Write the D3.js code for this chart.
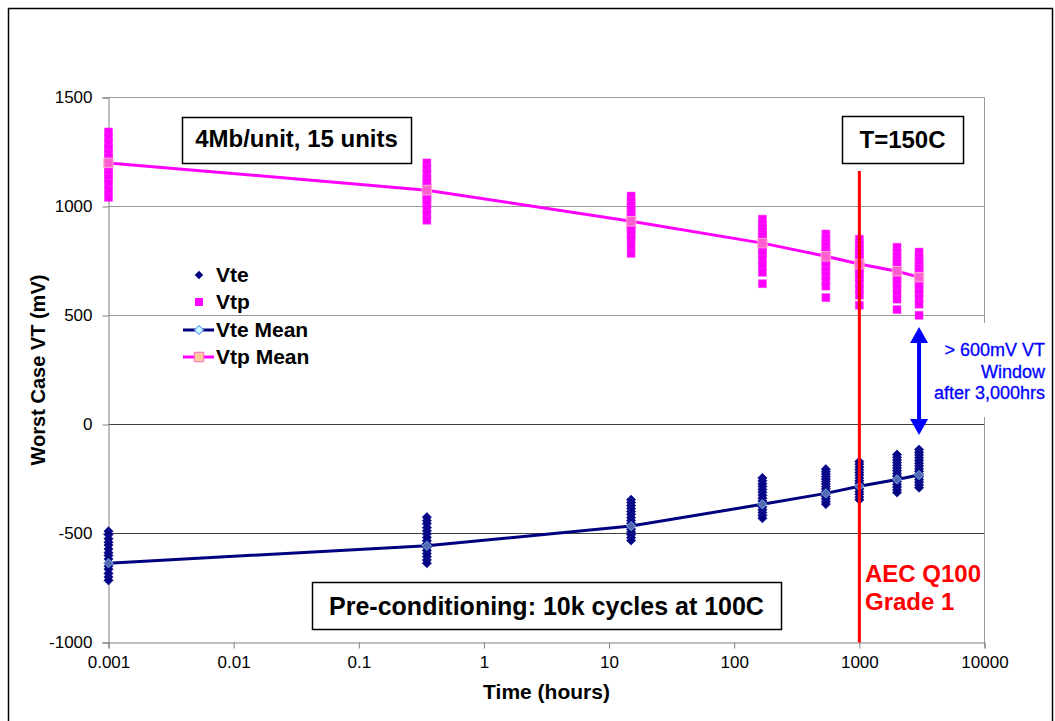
<!DOCTYPE html>
<html>
<head>
<meta charset="utf-8">
<script src="https://cdn.jsdelivr.net/npm/d3@7"></script>
<style>
  body { margin: 0; background: #fff; }
  svg { display: block; font-family: "Liberation Sans", Arial, sans-serif; }
</style>
</head>
<body>
<svg id="chart" width="1055" height="721"></svg>
<script>
// measurement times (hours)
const hours = [0.001, 0.35, 15, 168, 540, 1000, 2000, 3000];

// worst case VT of the 15 units at each time (mV)
const vte = [
  [-490, -505, -524, -540, -553, -571, -588, -601, -617, -636, -650, -664, -683, -699, -715],
  [-425, -441, -455, -473, -488, -502, -518, -533, -547, -563, -578, -592, -606, -622, -636],
  [-345, -358, -372, -385, -399, -412, -427, -440, -453, -467, -480, -493, -506, -519, -532],
  [-245, -258, -272, -284, -298, -311, -325, -338, -351, -364, -378, -391, -404, -417, -430],
  [-205, -217, -228, -240, -251, -262, -273, -285, -296, -308, -319, -331, -342, -354, -365],
  [-170, -182, -195, -207, -220, -232, -245, -258, -270, -283, -295, -308, -320, -333, -345],
  [-138, -150, -163, -175, -188, -200, -212, -225, -237, -250, -262, -275, -287, -300, -312],
  [-115, -128, -140, -153, -165, -178, -190, -203, -215, -228, -240, -253, -265, -278, -290]
];
const vtp = [
  [1342, 1315, 1290, 1268, 1245, 1225, 1210, 1195, 1180, 1165, 1148, 1130, 1105, 1075, 1042],
  [1200, 1175, 1152, 1130, 1112, 1095, 1082, 1070, 1058, 1045, 1030, 1012, 990, 965, 937],
  [1048, 1025, 1005, 985, 968, 952, 940, 930, 918, 905, 890, 872, 850, 820, 785],
  [942, 920, 902, 887, 873, 860, 848, 835, 820, 803, 783, 758, 728, 698, 646],
  [874, 852, 833, 816, 800, 786, 772, 758, 742, 725, 705, 683, 660, 635, 582],
  [850, 826, 806, 788, 772, 757, 742, 727, 710, 692, 672, 648, 622, 593, 547],
  [813, 790, 771, 754, 739, 724, 710, 696, 681, 665, 646, 625, 601, 575, 527],
  [791, 768, 749, 732, 716, 701, 687, 673, 658, 642, 623, 602, 578, 552, 501]
];
const vteMean = [-636, -556, -466, -366, -316, -283, -252, -232];
const vtpMean = [1200, 1075, 932, 832, 772, 736, 703, 676];

const xTicks = [0.001, 0.01, 0.1, 1, 10, 100, 1000, 10000];
const xTickLabels = ["0.001", "0.01", "0.1", "1", "10", "100", "1000", "10000"];
const yTicks = [-1000, -500, 0, 500, 1000, 1500];

const navy = "#000080", magenta = "#FF00FF";

const svg = d3.select("#chart");

const x = d3.scaleLog().domain([0.001, 10000]).range([108.5, 984.5]);
const y = d3.scaleLinear().domain([-1000, 1500]).range([642.5, 97.5]);

// outer frame
svg.append("rect").attr("x", 8.5).attr("y", 8.5).attr("width", 1044).attr("height", 730)
  .attr("fill", "#fff").attr("stroke", "#000").attr("stroke-width", 1.5);

// gridlines
svg.append("g").selectAll("line").data(yTicks.filter(d => d > -1000)).join("line")
  .attr("x1", x.range()[0]).attr("x2", x.range()[1])
  .attr("y1", d => y(d)).attr("y2", d => y(d))
  .attr("stroke", d => d > 0 ? "#999" : "#404040").attr("stroke-width", 1);
// right plot border
svg.append("line").attr("x1", x.range()[1]).attr("x2", x.range()[1])
  .attr("y1", y(1500)).attr("y2", y(-1000)).attr("stroke", "#999");

// axes
const yAxis = svg.append("g").attr("transform", `translate(${x.range()[0]},0)`)
  .call(d3.axisLeft(y).tickValues(yTicks).tickSize(6).tickPadding(10).tickFormat(d => String(d)));
const xAxis = svg.append("g").attr("transform", `translate(0,${y.range()[0]})`)
  .call(d3.axisBottom(x).tickValues(xTicks).tickSize(6).tickPadding(7)
    .tickFormat((d, i) => xTickLabels[i]));
[xAxis, yAxis].forEach(a => {
  a.selectAll("path, line").attr("stroke", "#808080");
  a.selectAll("text").attr("font-size", 17).attr("fill", "#000")
    .attr("font-family", "Liberation Sans, Arial, sans-serif");
});

// axis titles
svg.append("text").attr("transform", "translate(45,370) rotate(-90)")
  .attr("text-anchor", "middle").attr("font-size", 20).attr("font-weight", "bold")
  .text("Worst Case VT (mV)");
svg.append("text").attr("x", (x.range()[0] + x.range()[1]) / 2).attr("y", 699)
  .attr("text-anchor", "middle").attr("font-size", 21).attr("font-weight", "bold")
  .text("Time (hours)");

const diamond = d3.symbol(d3.symbolSquare, 42);
const square = d3.symbol(d3.symbolSquare, 64);

// Vtp points
const vtpPts = vtp.flatMap((vals, i) => vals.map(v => [hours[i], v]));
svg.append("g").selectAll("path").data(vtpPts).join("path")
  .attr("d", square).attr("transform", d => `translate(${x(d[0])},${y(d[1])})`)
  .attr("fill", magenta).attr("stroke", "#FF33FF").attr("stroke-width", 0.5);

// Vte points
const vtePts = vte.flatMap((vals, i) => vals.map(v => [hours[i], v]));
svg.append("g").selectAll("path").data(vtePts).join("path")
  .attr("d", diamond).attr("transform", d => `translate(${x(d[0])},${y(d[1])}) rotate(45)`)
  .attr("fill", navy).attr("stroke", "#1a1a99").attr("stroke-width", 0.8);

// mean lines
const line = d3.line().x((d, i) => x(hours[i])).y(d => y(d));
svg.append("path").datum(vtpMean).attr("d", line).attr("fill", "none")
  .attr("stroke", magenta).attr("stroke-width", 3);
svg.append("path").datum(vteMean).attr("d", line).attr("fill", "none")
  .attr("stroke", navy).attr("stroke-width", 3);

// mean markers
svg.append("g").selectAll("path").data(vtpMean).join("path")
  .attr("d", d3.symbol(d3.symbolSquare, 90))
  .attr("transform", (d, i) => `translate(${x(hours[i])},${y(d)})`)
  .attr("fill", "#FFCC99").attr("fill-opacity", 0.45).attr("stroke", "#FFAACC").attr("stroke-width", 1);
svg.append("g").selectAll("path").data(vteMean).join("path")
  .attr("d", d3.symbol(d3.symbolSquare, 40))
  .attr("transform", (d, i) => `translate(${x(hours[i])},${y(d)}) rotate(45)`)
  .attr("fill", "#CCFFFF").attr("fill-opacity", 0.4).attr("stroke", "#6699CC").attr("stroke-width", 1);

// T=150C limit at 1000 hours
svg.append("line").attr("x1", x(1000)).attr("x2", x(1000))
  .attr("y1", 171).attr("y2", y(-1000))
  .attr("stroke", "#FF0000").attr("stroke-width", 3);
svg.append("text").attr("x", 865).attr("y", 582).attr("fill", "#FF0000")
  .attr("font-size", 24).attr("font-weight", "bold").text("AEC Q100");
svg.append("text").attr("x", 865).attr("y", 610).attr("fill", "#FF0000")
  .attr("font-size", 24).attr("font-weight", "bold").text("Grade 1");

// text boxes
function box(x0, y0, w, h, baseline, label, size) {
  svg.append("rect").attr("x", x0 + 0.5).attr("y", y0 + 0.5).attr("width", w).attr("height", h)
    .attr("fill", "#fff").attr("stroke", "#000").attr("stroke-width", 1.5);
  svg.append("text").attr("x", x0 + w / 2).attr("y", baseline).attr("text-anchor", "middle")
    .attr("font-size", size).attr("font-weight", "bold").text(label);
}
box(182, 117, 229, 46, 147, "4Mb/unit, 15 units", 24);
box(842, 116, 121, 47, 148, "T=150C", 24);
box(312, 582, 469, 47, 615, "Pre-conditioning: 10k cycles at 100C", 25);

// VT window annotation
const ax = x(3000), arrowTop = y(500) + 11.5, arrowBot = y(0) + 10.5;
svg.append("rect").attr("x", 932).attr("y", 323).attr("width", 118).attr("height", 94).attr("fill", "#fff");
svg.append("line").attr("x1", ax).attr("x2", ax).attr("y1", arrowTop + 14).attr("y2", arrowBot - 14)
  .attr("stroke", "#0000FF").attr("stroke-width", 4);
svg.append("path").attr("d", `M${ax},${arrowTop}L${ax - 9},${arrowTop + 16}L${ax + 9},${arrowTop + 16}Z`).attr("fill", "#0000FF");
svg.append("path").attr("d", `M${ax},${arrowBot}L${ax - 9},${arrowBot - 16}L${ax + 9},${arrowBot - 16}Z`).attr("fill", "#0000FF");
["> 600mV VT", "Window", "after 3,000hrs"].forEach((t, i) => {
  svg.append("text").attr("x", 1045).attr("y", 356 + i * 21.5).attr("text-anchor", "end")
    .attr("fill", "#0000FF").attr("font-size", 18).attr("stroke", "#0000FF").attr("stroke-width", 0.3)
    .text(t);
});

// legend
const lg = svg.append("g");
const lx = 199;
lg.append("path").attr("d", d3.symbol(d3.symbolSquare, 36)).attr("transform", `translate(${lx},275) rotate(45)`).attr("fill", navy);
lg.append("path").attr("d", square).attr("transform", `translate(${lx},302)`).attr("fill", magenta);
lg.append("line").attr("x1", 183).attr("x2", 214).attr("y1", 330).attr("y2", 330)
  .attr("stroke", navy).attr("stroke-width", 3);
lg.append("path").attr("d", d3.symbol(d3.symbolSquare, 40))
  .attr("transform", `translate(${lx},330) rotate(45)`).attr("fill", "#CCFFFF").attr("stroke", "#6699FF");
lg.append("line").attr("x1", 183).attr("x2", 214).attr("y1", 357).attr("y2", 357)
  .attr("stroke", magenta).attr("stroke-width", 3);
lg.append("path").attr("d", d3.symbol(d3.symbolSquare, 90))
  .attr("transform", `translate(${lx},357)`).attr("fill", "#FFCC99").attr("stroke", "#FF66CC");
["Vte", "Vtp", "Vte Mean", "Vtp Mean"].forEach((t, i) => {
  lg.append("text").attr("x", 216).attr("y", [282, 309, 337, 364][i])
    .attr("font-size", 21).attr("font-weight", "bold").text(t);
});
</script>
</body>
</html>
